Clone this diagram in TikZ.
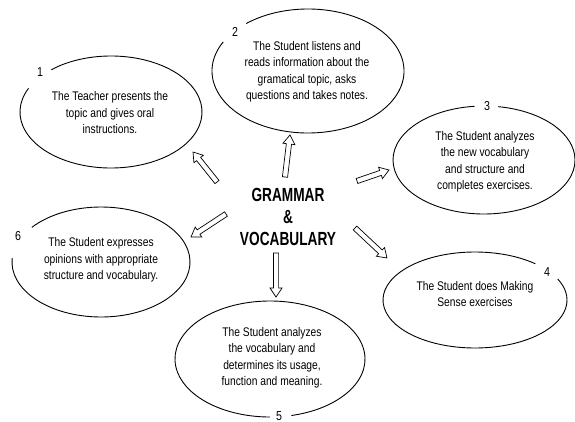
\documentclass[tikz,border=0pt]{standalone}
\usepackage{fontspec}
\setmainfont{Liberation Sans}
\newfontfamily\bodyfont[FakeStretch=0.82]{Liberation Sans}
\newfontfamily\titlefont[FakeStretch=0.72]{Liberation Sans}
\usetikzlibrary{calc}
\newcommand\hollowarrow[2]{%
  \coordinate (hbase) at ($(#2)!9pt!(#1)$);
  \draw[arrowline] ($(#1)!2.6pt!90:(#2)$) -- ($(hbase)!2.6pt!90:(#2)$)
    -- ($(hbase)!6pt!90:(#2)$) -- (#2) -- ($(hbase)!6pt!-90:(#2)$)
    -- ($(hbase)!2.6pt!-90:(#2)$) -- ($(#1)!2.6pt!-90:(#2)$) -- cycle;}
\newcommand\gapellipse[5]{%
  \draw[bubble] (#1) ++(#4:#2pt and #3pt)
    arc[start angle=#4, end angle=#5, x radius=#2pt, y radius=#3pt];}
\begin{document}
\begin{tikzpicture}[x=1pt,y=-1pt,
  bubble/.style={line width=0.9pt, black},
  arrowline/.style={line width=0.7pt, black, fill=white, line join=miter},
  bodytext/.style={font=\bodyfont\fontsize{12.5}{16.5}\selectfont, align=center, inner sep=0pt},
  numtext/.style={font=\bodyfont\fontsize{13}{15}\selectfont, inner sep=0pt},
  titletext/.style={font=\titlefont\bfseries\fontsize{19}{22}\selectfont, align=center, inner sep=0pt}]
\useasboundingbox[fill=white] (0,0) rectangle (575,422);

% ellipse centres
\coordinate (c1) at (111,112);
\coordinate (c2) at (308,71);
\coordinate (c3) at (484,160);
\coordinate (c4) at (475,300);
\coordinate (c5) at (270,359);
\coordinate (c6) at (101,262);

% outlines with gaps for the numbers
\gapellipse{c1}{91}{56}{155}{491}
\gapellipse{c2}{96}{62}{152}{490}
\gapellipse{c3}{91}{54}{96}{441}
\gapellipse{c4}{92}{48}{49}{386}
\gapellipse{c5}{95}{58}{283}{630}
\gapellipse{c6}{89}{55}{176}{501}

% numbers
\node[numtext] (n1) at (40,72) {1};
\node[numtext] (n2) at (235,32) {2};
\node[numtext] (n3) at (487,106) {3};
\node[numtext] (n4) at (547,272) {4};
\node[numtext] (n5) at (279,416) {5};
\node[numtext] (n6) at (18,236) {6};

% texts
\node[bodytext] (t1) at (110,113) {The Teacher presents the\\topic and gives oral\\instructions.};
\node[bodytext] (t2) at (307,72) {The Student listens and\\reads information about the\\gramatical topic, asks\\questions and takes notes.};
\node[bodytext] (t3) at (485,162) {The Student analyzes\\the new vocabulary\\and structure and\\completes exercises.};
\node[bodytext] (t4) at (475,294) {The Student does Making\\Sense exercises};
\node[bodytext] (t5) at (272,358) {The Student analyzes\\the vocabulary and\\determines its usage,\\function and meaning.};
\node[bodytext] (t6) at (101,260) {The Student expresses\\opinions with appropriate\\structure and vocabulary.};

\node[titletext] (gv) at (288,217) {GRAMMAR\\\&\\VOCABULARY};

% arrows
\coordinate (a1s) at (217,182); \coordinate (a1e) at (193,152);
\coordinate (a2s) at (285,177); \coordinate (a2e) at (290,135);
\coordinate (a3s) at (357,181); \coordinate (a3e) at (389,170);
\coordinate (a4s) at (355,228); \coordinate (a4e) at (387,258);
\coordinate (a5s) at (276,253); \coordinate (a5e) at (276,297);
\coordinate (a6s) at (226,214); \coordinate (a6e) at (191,237);
\hollowarrow{a1s}{a1e}
\hollowarrow{a2s}{a2e}
\hollowarrow{a3s}{a3e}
\hollowarrow{a4s}{a4e}
\hollowarrow{a5s}{a5e}
\hollowarrow{a6s}{a6e}
\end{tikzpicture}
\end{document}
